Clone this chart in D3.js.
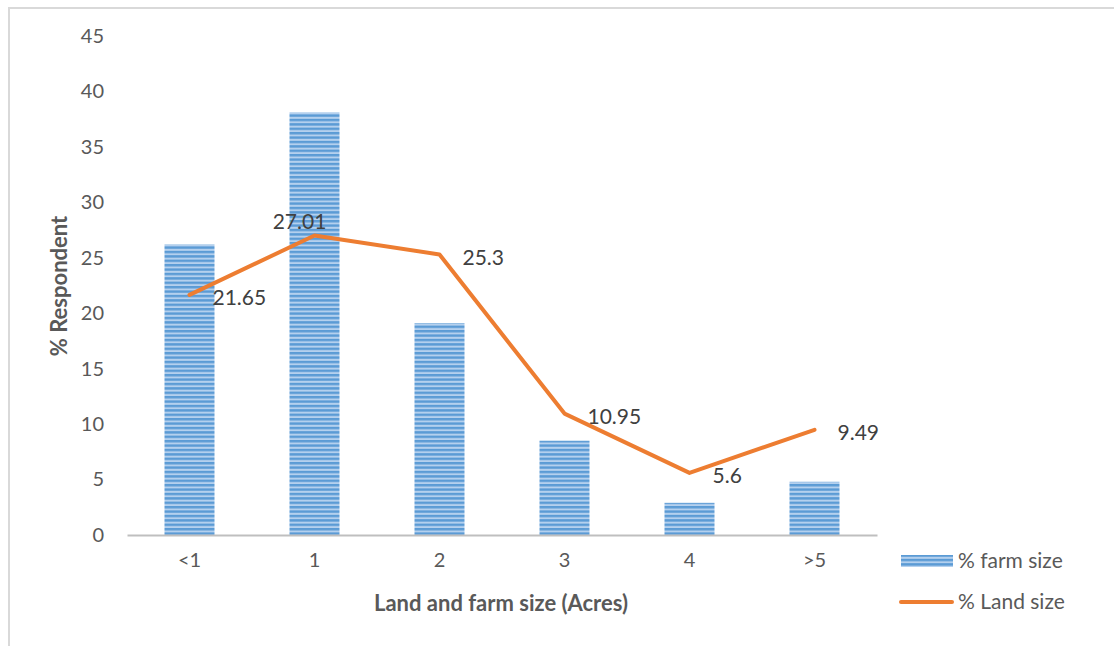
<!DOCTYPE html>
<html>
<head>
<meta charset="utf-8">
<script src="https://cdn.jsdelivr.net/npm/d3@7"></script>
<style>
  body { margin: 0; background: #fff; }
  svg { display: block; font-family: Lato, "Noto Sans", sans-serif; }
</style>
</head>
<body>
<div id="chart"></div>
<script>
"use strict";

// Chart data.
const categories = ["<1", "1", "2", "3", "4", ">5"];
const farmSize = [26.2, 38.1, 19.1, 8.5, 2.9, 4.8];
const landSize = [21.65, 27.01, 25.3, 10.95, 5.6, 9.49];
const yTicks = [0, 5, 10, 15, 20, 25, 30, 35, 40, 45];

const width = 1114, height = 646;
const svg = d3.select("#chart").append("svg")
    .attr("width", width)
    .attr("height", height);

// Frame of the chart area (runs off the right and bottom edges).
svg.append("rect")
    .attr("x", 9).attr("y", 8)
    .attr("width", width + 20).attr("height", height + 20)
    .attr("fill", "none")
    .attr("stroke", "#d9d9d9")
    .attr("stroke-width", 2);

// Striped bar fill.
const defs = svg.append("defs");
const pat = defs.append("pattern")
    .attr("id", "stripes")
    .attr("patternUnits", "userSpaceOnUse")
    .attr("width", 8).attr("height", 4.4);
pat.append("rect").attr("width", 8).attr("height", 4.4).attr("fill", "#b4d0ee");
pat.append("rect").attr("y", 0).attr("width", 8).attr("height", 2.4).attr("fill", "#5b9bd5");

const xScale = d3.scaleBand()
    .domain(categories)
    .range([127, 877]);
const yScale = d3.scaleLinear()
    .domain([0, 45])
    .range([535, 36]);

const tickFont = 20;

// y tick labels (no axis line).
const yAxis = d3.axisLeft(yScale).tickValues(yTicks).tickSize(0).tickPadding(0);
const gy = svg.append("g")
    .attr("transform", "translate(104,0)")
    .call(yAxis);
gy.select(".domain").remove();
gy.selectAll("text")
    .attr("font-size", tickFont)
    .attr("fill", "#595959")
    .attr("font-family", "Lato, 'Noto Sans', sans-serif");

// Bars.
const barW = 50;
svg.append("g")
    .selectAll("rect")
    .data(farmSize)
    .join("rect")
    .attr("x", (d, i) => xScale(categories[i]) + xScale.bandwidth() / 2 - barW / 2)
    .attr("y", d => yScale(d))
    .attr("width", barW)
    .attr("height", d => yScale(0) - yScale(d))
    .attr("fill", "url(#stripes)");

// x axis.
const xAxis = d3.axisBottom(xScale).tickSize(0).tickPadding(18);
const gx = svg.append("g")
    .attr("transform", `translate(0,${yScale(0)})`)
    .call(xAxis);
gx.select(".domain")
    .attr("stroke", "#bfbfbf")
    .attr("stroke-width", 2);
gx.selectAll("text")
    .attr("font-size", tickFont)
    .attr("fill", "#595959")
    .attr("font-family", "Lato, 'Noto Sans', sans-serif");

// Line.
const cx = i => xScale(categories[i]) + xScale.bandwidth() / 2;
const line = d3.line()
    .x((d, i) => cx(i))
    .y(d => yScale(d));
svg.append("path")
    .datum(landSize)
    .attr("d", line)
    .attr("fill", "none")
    .attr("stroke", "#ed7d31")
    .attr("stroke-width", 4)
    .attr("stroke-linejoin", "round")
    .attr("stroke-linecap", "round");

// Data labels; the second one sits above its point.
svg.append("g")
    .selectAll("text")
    .data(landSize)
    .join("text")
    .attr("x", (d, i) => i === 1 ? cx(i) - 15 : cx(i) + 23)
    .attr("y", (d, i) => i === 1 ? yScale(d) - 14 : yScale(d) + 3)
    .attr("dy", "0.35em")
    .attr("text-anchor", (d, i) => i === 1 ? "middle" : "start")
    .attr("font-size", 21)
    .attr("fill", "#404040")
    .text(d => d);

// Axis titles.
svg.append("text")
    .attr("transform", "translate(67,286) rotate(-90)")
    .attr("text-anchor", "middle")
    .attr("font-size", 22)
    .attr("font-weight", "bold")
    .attr("fill", "#595959")
    .text("% Respondent");
svg.append("text")
    .attr("x", 501).attr("y", 611)
    .attr("text-anchor", "middle")
    .attr("font-size", 22)
    .attr("font-weight", "bold")
    .attr("fill", "#595959")
    .text("Land and farm size (Acres)");

// Legend.
const lg = svg.append("g");
lg.append("rect")
    .attr("x", 901).attr("y", 555)
    .attr("width", 52).attr("height", 12)
    .attr("fill", "url(#stripes)");
lg.append("text")
    .attr("x", 958).attr("y", 561).attr("dy", "0.35em")
    .attr("font-size", 21).attr("fill", "#595959")
    .text("% farm size");
lg.append("line")
    .attr("x1", 901).attr("x2", 952)
    .attr("y1", 602).attr("y2", 602)
    .attr("stroke", "#ed7d31")
    .attr("stroke-width", 4)
    .attr("stroke-linecap", "round");
lg.append("text")
    .attr("x", 958).attr("y", 602).attr("dy", "0.35em")
    .attr("font-size", 21).attr("fill", "#595959")
    .text("% Land size");
</script>
</body>
</html>
